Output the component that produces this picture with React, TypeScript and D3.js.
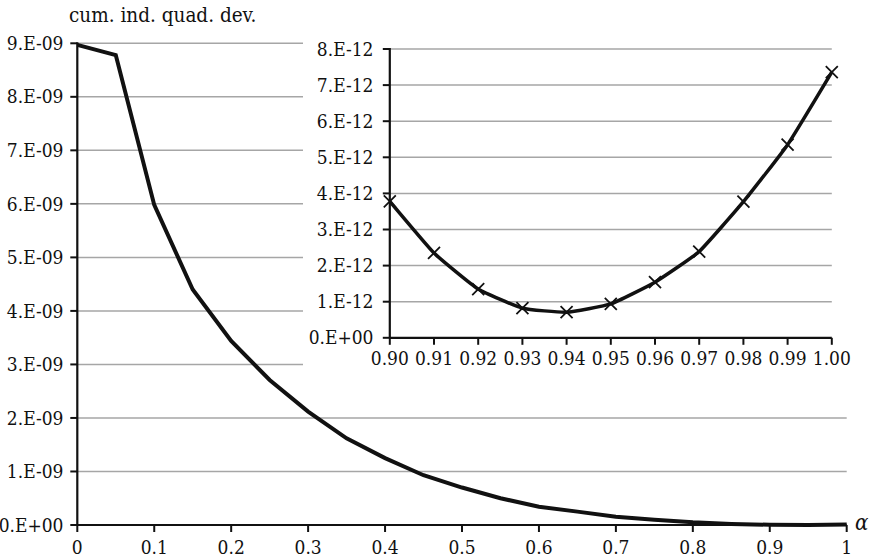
import React from "react";
import * as d3 from "d3";

const mainAlpha = [0, 0.05, 0.1, 0.15, 0.2, 0.25, 0.3, 0.35, 0.4, 0.45, 0.5, 0.55, 0.6, 0.65, 0.7, 0.75, 0.8, 0.85, 0.9, 0.95, 1.0];
const mainDev = [8.97e-9, 8.78e-9, 5.98e-9, 4.4e-9, 3.44e-9, 2.71e-9, 2.12e-9, 1.62e-9, 1.25e-9, 0.93e-9, 0.7e-9, 0.5e-9, 0.34e-9, 0.25e-9, 0.155e-9, 0.1e-9, 0.05e-9, 0.02e-9, 0.0038e-9, 0.0009e-9, 0.0074e-9];
const mainXTicks = [0, 0.1, 0.2, 0.3, 0.4, 0.5, 0.6, 0.7, 0.8, 0.9, 1];
const mainXTickLabels = ["0", "0.1", "0.2", "0.3", "0.4", "0.5", "0.6", "0.7", "0.8", "0.9", "1"];
const mainYTicks = [0, 1e-9, 2e-9, 3e-9, 4e-9, 5e-9, 6e-9, 7e-9, 8e-9, 9e-9];
const mainYTickLabels = ["0.E+00", "1.E-09", "2.E-09", "3.E-09", "4.E-09", "5.E-09", "6.E-09", "7.E-09", "8.E-09", "9.E-09"];

const insetAlpha = [0.9, 0.91, 0.92, 0.93, 0.94, 0.95, 0.96, 0.97, 0.98, 0.99, 1.0];
const insetDev = [3.78e-12, 2.35e-12, 1.35e-12, 0.82e-12, 0.71e-12, 0.94e-12, 1.54e-12, 2.39e-12, 3.77e-12, 5.35e-12, 7.36e-12];
const insetXTickLabels = ["0.90", "0.91", "0.92", "0.93", "0.94", "0.95", "0.96", "0.97", "0.98", "0.99", "1.00"];
const insetYTicks = [0, 1e-12, 2e-12, 3e-12, 4e-12, 5e-12, 6e-12, 7e-12, 8e-12];
const insetYTickLabels = ["0.E+00", "1.E-12", "2.E-12", "3.E-12", "4.E-12", "5.E-12", "6.E-12", "7.E-12", "8.E-12"];

const FONT = "'DejaVu Serif Condensed', 'DejaVu Serif', serif";
const GRID = "#a6a6a6";
const T = { fontFamily: FONT, fontStretch: "condensed" as const };
const FS = 19;

export default function App() {
  const x = d3.scaleLinear().domain([0, 1]).range([77.3, 846.7]);
  const y = d3.scaleLinear().domain([0, 9e-9]).range([525, 43.3]);
  const xi = d3.scaleLinear().domain([0.9, 1.0]).range([389.8, 831.8]);
  const yi = d3.scaleLinear().domain([0, 8e-12]).range([337.8, 49]);

  const mainLine = d3.line<number>().x((_, i) => x(mainAlpha[i])).y((d) => y(d));
  const insetLine = d3
    .line<number>()
    .x((_, i) => xi(insetAlpha[i]))
    .y((d) => yi(d))
    .curve(d3.curveCardinal.tension(0.6));

  const m = 6;

  return (
    <svg width={873} height={559} style={{ position: "absolute", left: 0, top: 0, background: "#fff", fontFamily: FONT }}>
      <rect x={0} y={0} width={873} height={559} fill="#fff" />
      {mainYTicks.slice(1).map((t) => (
        <line key={"mg" + t} x1={x(0)} x2={x(1)} y1={y(t)} y2={y(t)} stroke={GRID} strokeWidth={1.5} />
      ))}
      {mainYTicks.map((t, i) => (
        <g key={"my" + t}>
          <line x1={x(0) - 7} x2={x(0)} y1={y(t)} y2={y(t)} stroke="#111" strokeWidth={2} />
          <text x={63.5} y={y(t)} dy="0.35em" textAnchor="end" fontSize={FS} fill="#111" style={T}>
            {mainYTickLabels[i]}
          </text>
        </g>
      ))}
      {mainXTicks.map((t, i) => (
        <g key={"mx" + t}>
          <line x1={x(t)} x2={x(t)} y1={y(0)} y2={y(0) + 7} stroke="#111" strokeWidth={2} />
          <text x={x(t)} y={554} textAnchor="middle" fontSize={FS} fill="#111" style={T}>
            {mainXTickLabels[i]}
          </text>
        </g>
      ))}
      <line x1={x(0)} x2={x(0)} y1={y(9e-9) - 1} y2={y(0)} stroke="#111" strokeWidth={2.2} />
      <line x1={x(0)} x2={x(1)} y1={y(0)} y2={y(0)} stroke="#111" strokeWidth={2.2} />
      <text x={69} y={22} fontSize={20.5} fill="#111" style={T}>cum. ind. quad. dev.</text>
      <text x={855} y={530} fontSize={22} fontStyle="italic" fill="#111" style={T}>α</text>
      <path d={mainLine(mainDev) || ""} fill="none" stroke="#111" strokeWidth={4} strokeLinejoin="miter" />

      <rect x={303} y={28} width={548} height={344} fill="#fff" />
      {insetYTicks.slice(1).map((t) => (
        <line key={"ig" + t} x1={xi(0.9)} x2={xi(1.0)} y1={yi(t)} y2={yi(t)} stroke={GRID} strokeWidth={1.5} />
      ))}
      {insetYTicks.map((t, i) => (
        <g key={"iy" + t}>
          <line x1={xi(0.9) - 7} x2={xi(0.9)} y1={yi(t)} y2={yi(t)} stroke="#111" strokeWidth={2} />
          <text x={373.5} y={yi(t)} dy="0.35em" textAnchor="end" fontSize={FS} fill="#111" style={T}>
            {insetYTickLabels[i]}
          </text>
        </g>
      ))}
      {insetAlpha.map((t, i) => (
        <g key={"ix" + t}>
          <line x1={xi(t)} x2={xi(t)} y1={yi(0)} y2={yi(0) + 7} stroke="#111" strokeWidth={2} />
          <text x={xi(t)} y={365} textAnchor="middle" fontSize={FS} fill="#111" style={T}>
            {insetXTickLabels[i]}
          </text>
        </g>
      ))}
      <line x1={xi(0.9)} x2={xi(0.9)} y1={yi(8e-12) - 1} y2={yi(0)} stroke="#111" strokeWidth={2.2} />
      <line x1={xi(0.9)} x2={xi(1.0)} y1={yi(0)} y2={yi(0)} stroke="#111" strokeWidth={2.2} />
      <path d={insetLine(insetDev) || ""} fill="none" stroke="#111" strokeWidth={3.5} />
      {insetDev.map((d, i) => {
        const cx = xi(insetAlpha[i]);
        const cy = yi(d);
        return (
          <path
            key={"mk" + i}
            d={`M${cx - m},${cy - m}L${cx + m},${cy + m}M${cx - m},${cy + m}L${cx + m},${cy - m}`}
            stroke="#111"
            strokeWidth={1.8}
          />
        );
      })}
    </svg>
  );
}
